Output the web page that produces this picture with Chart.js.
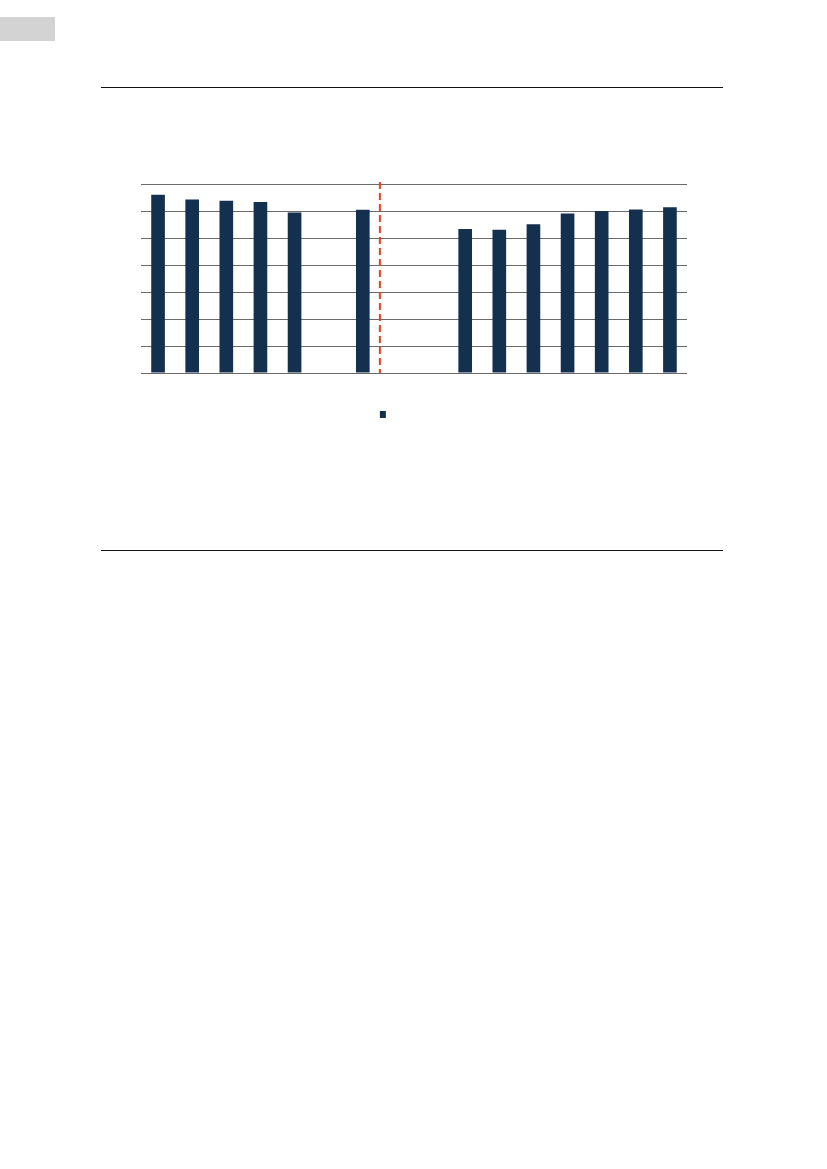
<!DOCTYPE html>
<html>
<head>
<meta charset="utf-8">
<script src="https://cdn.jsdelivr.net/npm/chart.js@4.4.1/dist/chart.umd.min.js"></script>
<style>
  body { margin: 0; background: #fff; font-family: "Liberation Sans", Arial, sans-serif; }
  .page { position: relative; width: 827px; height: 1169px; }
  .tab { position: absolute; left: 0; top: 17px; width: 55px; height: 24px; background: #d3d3d3; }
  .rule { position: absolute; left: 101px; width: 622px; height: 1px; background: #111; }
  #wrap { position: absolute; left: 141px; top: 178px; width: 546px; height: 250px; }
</style>
</head>
<body>
<div class="page">
  <div class="tab"></div>
  <div class="rule" style="top:87px"></div>
  <div class="rule" style="top:550px"></div>
  <div id="wrap"><canvas id="myChart"></canvas></div>
</div>
<script>
// categories (labels are not printed in the picture)
var labels = ['1', '2', '3', '4', '5', '6', '7', '8', '9', '10', '11', '12', '13', '14', '15', '16']
var values = [6.6, 6.43, 6.38, 6.33, 5.94, null, 6.05, null, null, 5.33, 5.31, 5.51, 5.91, 6.0, 6.06, 6.14]
var yTicks = [0, 1, 2, 3, 4, 5, 6, 7]
var splitAfter = 6 // dashed line sits between this category and the next

var barColor = '#14304f'

// red dashed divider + the little legend square
var extras = {
    id: 'extras',
    afterDatasetsDraw: function (chart) {
        var ctx = chart.ctx
        var x = chart.scales.x
        var y = chart.scales.y
        var px = (x.getPixelForValue(splitAfter) + x.getPixelForValue(splitAfter + 1)) / 2
        ctx.save()
        ctx.strokeStyle = '#e5411e'
        ctx.lineWidth = 2
        ctx.setLineDash([7, 4])
        ctx.beginPath()
        ctx.moveTo(px, chart.chartArea.top - 2)
        ctx.lineTo(px, y.getPixelForValue(0))
        ctx.stroke()
        ctx.restore()
        // legend square (legend text is empty in the reference)
        ctx.fillStyle = barColor
        ctx.fillRect(px, y.getPixelForValue(0) + 38, 6, 7)
    }
}

var ctx = document.getElementById('myChart')
var myChart = new Chart(ctx, {
    type: 'bar',
    data: {
        labels: labels,
        datasets: [{
            label: '',
            data: values,
            backgroundColor: barColor,
            borderWidth: 0,
            barPercentage: 0.4,
            categoryPercentage: 1
        }]
    },
    options: {
        responsive: true,
        maintainAspectRatio: false,
        animation: false,
        layout: { padding: { top: 6, bottom: 47, left: 0, right: 0 } },
        plugins: {
            legend: { display: false },
            tooltip: { enabled: false }
        },
        scales: {
            x: {
                grid: { display: false },
                border: { display: false },
                ticks: { display: false }
            },
            y: {
                min: 0,
                max: 7,
                afterBuildTicks: function (axis) {
                    axis.ticks = yTicks.map(function (v) { return { value: v } })
                },
                grid: { color: '#6a6a6a', lineWidth: 1, drawTicks: false },
                border: { display: false },
                ticks: { display: false }
            }
        }
    },
    plugins: [extras]
});
</script>
</body>
</html>
